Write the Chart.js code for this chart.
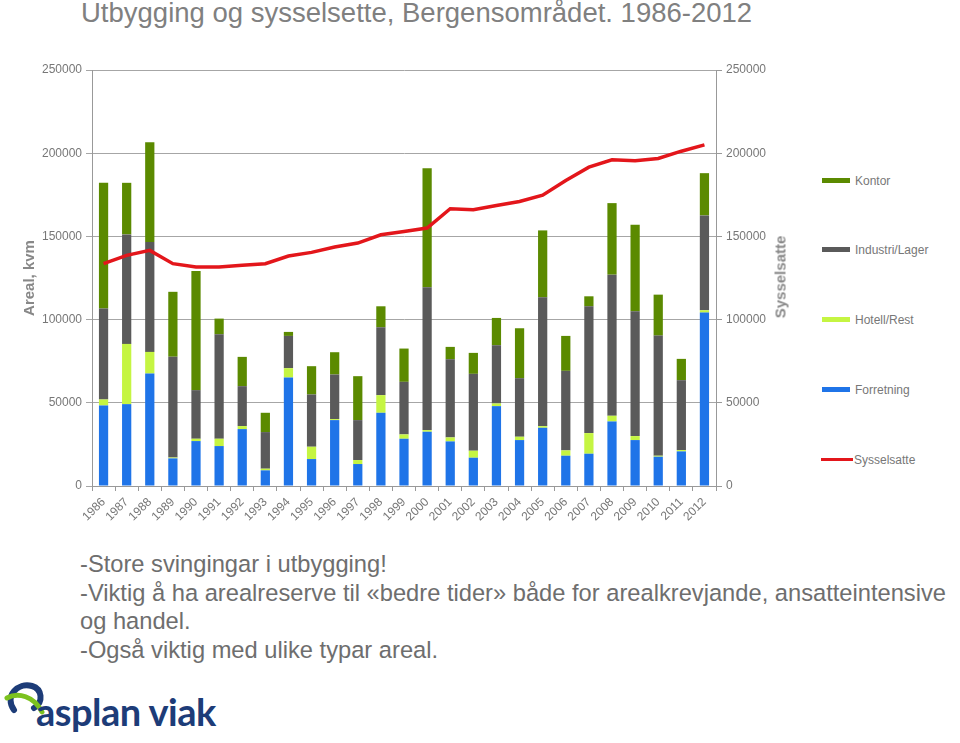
<!DOCTYPE html>
<html>
<head>
<meta charset="utf-8">
<script src="https://cdn.jsdelivr.net/npm/chart.js@4.4.1/dist/chart.umd.min.js"></script>
<style>
  body { margin: 0; width: 960px; height: 743px; overflow: hidden; background: #fff; font-family: Arial, "Liberation Sans", sans-serif; position: relative; }
  #title { position: absolute; left: 81px; top: -3px; font-size: 27.5px; color: #808080; white-space: nowrap; }
  #chart { position: absolute; left: 0; top: 55px; }
  #ytitle2 { position: absolute; left: 780px; top: 277px; transform: translate(-50%, -50%) rotate(-90deg); font-size: 15px; font-weight: bold; color: #888; white-space: nowrap; }
  .leg { position: absolute; left: 822px; font-size: 12px; color: #777; white-space: nowrap; }
  .leg i { display: inline-block; width: 28px; height: 5px; vertical-align: middle; margin-right: 5px; position: relative; top: -1px; }
  #notes { position: absolute; left: 80px; top: 550px; font-size: 23.7px; line-height: 28.5px; color: #6e6e6e; white-space: nowrap; }
  #logo { position: absolute; left: 4px; top: 676px; }
  #logo span { position: absolute; left: 32px; top: 12px; font-family: Lato, "Open Sans", sans-serif; font-weight: bold; font-size: 38px; color: #1d3c78; white-space: nowrap; letter-spacing: -0.5px; }
</style>
</head>
<body>
<div id="title">Utbygging og sysselsette, Bergensområdet. 1986-2012</div>
<canvas id="chart" width="800" height="480"></canvas>
<div id="ytitle2">Sysselsatte</div>
<div id="legend"></div>
<div id="notes">
  -Store svingingar i utbygging!<br>
  -Viktig å ha arealreserve til «bedre tider» både for arealkrevjande, ansatteintensive<br>
  og handel.<br>
  -Også viktig med ulike typar areal.
</div>
<div id="logo">
  <svg width="60" height="50" viewBox="0 0 60 50">
    <path d="M10 34 C 0 20, 14 6, 28 10 C 38 13, 40 26, 30 32" fill="none" stroke="#1d3c78" stroke-width="6" stroke-linecap="round"/>
    <path d="M3 22 C 14 16, 30 20, 38 36" fill="none" stroke="#7cc21f" stroke-width="5" stroke-linecap="round"/>
  </svg>
  <span>asplan viak</span>
</div>
<script>
const years = ['1986', '1987', '1988', '1989', '1990', '1991', '1992', '1993', '1994', '1995', '1996', '1997', '1998',
  '1999', '2000', '2001', '2002', '2003', '2004', '2005', '2006', '2007', '2008', '2009', '2010', '2011', '2012'];

const forretning = [48400, 49200, 67600, 16600, 27000, 24000, 34200, 9400, 65200, 16200, 39600, 13200, 44000,
  28400, 32600, 26800, 17000, 48000, 27600, 35000, 18200, 19400, 38800, 27600, 17600, 20800, 104200];
const hotellRest = [3600, 36200, 13000, 500, 1400, 4400, 1800, 1000, 5600, 7400, 600, 2400, 10600,
  2600, 1000, 2400, 4200, 1600, 2000, 1000, 3200, 12400, 3400, 2400, 600, 800, 1400];
const industriLager = [54600, 65800, 66000, 60600, 29200, 62800, 24000, 22000, 19400, 31400, 26800, 24000, 40800,
  31600, 85800, 47000, 46200, 35000, 35200, 77400, 47800, 76200, 84800, 75000, 72200, 42000, 57000];
const kontor = [75600, 31000, 60000, 39000, 71600, 9400, 17600, 11600, 2400, 17000, 13400, 26400, 12600,
  20000, 71600, 7400, 12600, 16400, 30000, 40200, 21000, 6000, 43000, 52000, 24600, 12800, 25400];
const sysselsatte = [133600, 138600, 141600, 133600, 131600, 131600, 132600, 133600, 138200, 140400, 143600, 146000, 151000,
  153000, 155000, 166600, 166000, 168600, 171000, 174800, 183600, 191600, 196000, 195400, 196800, 201200, 205000];

const axisTicks = [0, 50000, 100000, 150000, 200000, 250000];

const colors = {
  forretning: '#1f74e8',
  hotell: '#c5f542',
  industri: '#5a5a5a',
  kontor: '#5b8a00',
  syss: '#e3161b',
};

// legend on the right, top to bottom like the original
const legendItems = [
  { label: 'Kontor', color: colors.kontor, top: 174 },
  { label: 'Industri/Lager', color: colors.industri, top: 243 },
  { label: 'Hotell/Rest', color: colors.hotell, top: 313 },
  { label: 'Forretning', color: colors.forretning, top: 383 },
  { label: 'Sysselsatte', color: colors.syss, top: 453, line: true },
];
document.getElementById('legend').innerHTML = legendItems.map((it) =>
  `<div class="leg" style="top:${it.top}px${it.line ? ';left:821px' : ''}"><i style="background:${it.color};${it.line ? 'height:3px;width:32px;margin-right:1px' : ''}"></i>${it.label}</div>`
).join('');

const tickFont = { family: 'Arial, "Liberation Sans", sans-serif', size: 12 };
const plainNumber = (v) => String(v);

const barSet = (label, data, color) => ({
  type: 'bar',
  label,
  data,
  backgroundColor: color,
  yAxisID: 'y',
  stack: 'areal',
  barPercentage: 0.4,
  categoryPercentage: 1,
  order: 2,
});

const chart = new Chart(document.getElementById('chart'), {
  type: 'bar',
  data: {
    labels: years,
    datasets: [
      barSet('Forretning', forretning, colors.forretning),
      barSet('Hotell/Rest', hotellRest, colors.hotell),
      barSet('Industri/Lager', industriLager, colors.industri),
      barSet('Kontor', kontor, colors.kontor),
      {
        type: 'line',
        label: 'Sysselsatte',
        data: sysselsatte,
        borderColor: colors.syss,
        backgroundColor: colors.syss,
        borderWidth: 3.5,
        pointRadius: 0,
        tension: 0,
        yAxisID: 'y1',
        order: 1,
      },
    ],
  },
  options: {
    responsive: false,
    animation: false,
    layout: { padding: { top: 15, left: 0, right: 0, bottom: 0 } },
    plugins: {
      legend: { display: false },
      tooltip: { enabled: false },
    },
    scales: {
      x: {
        stacked: true,
        grid: { drawOnChartArea: false, color: '#999', tickLength: 5, offset: true },
        border: { color: '#999' },
        ticks: {
          autoSkip: false,
          minRotation: 45,
          maxRotation: 45,
          color: '#777',
          font: { family: tickFont.family, size: 12 },
          padding: 4,
        },
        afterFit: (scale) => { scale.height = 49; },
      },
      y: {
        stacked: true,
        min: 0,
        max: 250000,
        afterBuildTicks: (scale) => { scale.ticks = axisTicks.map((v) => ({ value: v })); },
        grid: { color: '#a6a6a6', tickLength: 6 },
        border: { color: '#999' },
        ticks: { color: '#777', font: tickFont, padding: 4, callback: plainNumber },
        title: {
          display: true,
          text: 'Areal, kvm',
          color: '#888',
          font: { family: tickFont.family, size: 15, weight: 'bold' },
          padding: { top: 21, bottom: 0 },
        },
        afterFit: (scale) => { scale.width = 92; },
      },
      y1: {
        position: 'right',
        min: 0,
        max: 250000,
        afterBuildTicks: (scale) => { scale.ticks = axisTicks.map((v) => ({ value: v })); },
        grid: { drawOnChartArea: false, color: '#999', tickLength: 6 },
        border: { color: '#999' },
        ticks: { color: '#777', font: tickFont, padding: 4, callback: plainNumber },
        afterFit: (scale) => { scale.width = 84; },
      },
    },
  },
});
</script>
</body>
</html>
